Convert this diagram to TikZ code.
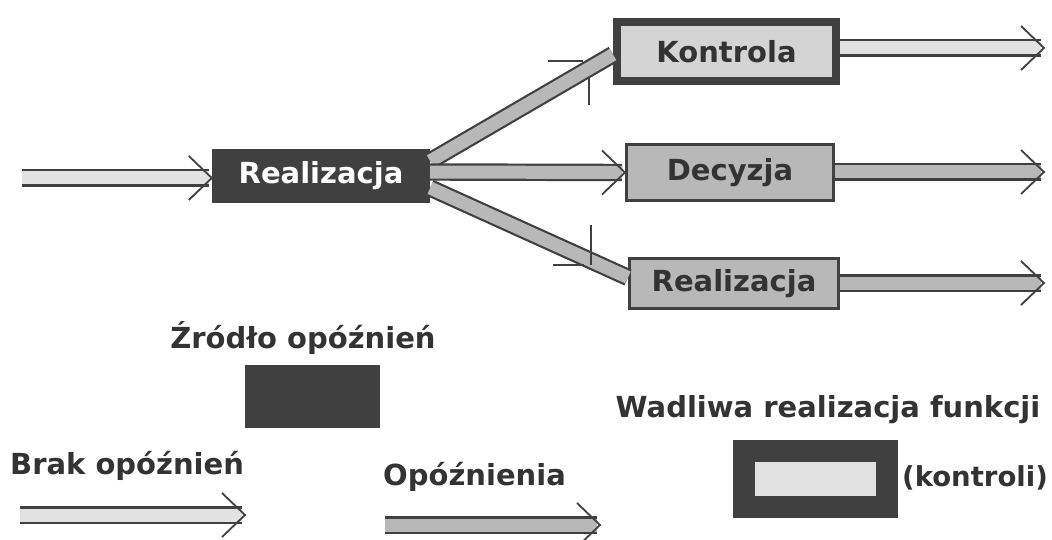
\documentclass[tikz,border=0pt]{standalone}
\usepackage{fontspec}
\setmainfont{DejaVu Sans}
\usetikzlibrary{calc}
\definecolor{dark}{HTML}{404040}
\definecolor{txt}{HTML}{333333}
\definecolor{lightfill}{HTML}{E2E2E2}
\definecolor{midfill}{HTML}{B8B8B8}
\definecolor{kfill}{HTML}{D4D4D4}
\newcommand\arrhead[1]{\draw[headline] ($(#1)+(-23,-22)$) -- (#1) -- ($(#1)+(-23,22)$);}
\begin{document}
\begin{tikzpicture}[x=1pt,y=-1pt,
  lbl/.style={font=\fontsize{29}{34}\selectfont\bfseries, text=txt, inner sep=0pt},
  darkbox/.style={fill=dark, text=white, font=\fontsize{29}{34}\selectfont\bfseries, inner sep=0pt},
  framebox/.style={draw=dark, text=txt, font=\fontsize{29}{34}\selectfont\bfseries, inner sep=0pt},
  band/.style={draw=dark, line width=2.2pt, double distance=13pt},
  headline/.style={draw=dark, line width=1.8pt},
  tick/.style={draw=dark, line width=1.8pt}]
\useasboundingbox (0,0) rectangle (1052,540);
\fill[white] (0,0) rectangle (1052,540);

% main nodes
\node[darkbox, minimum width=218, minimum height=54] (R1) at (321,176) {Realizacja};
\node[framebox, line width=8pt, fill=kfill, minimum width=219, minimum height=59] (K) at (726.5,51.5) {Kontrola};
\node[framebox, line width=3pt, fill=midfill, minimum width=207, minimum height=56] (D) at (730,172.5) {Decyzja};
\node[framebox, line width=3pt, fill=midfill, minimum width=209, minimum height=50] (R2) at (734,283.5) {Realizacja};

% incoming arrow
\coordinate (in) at (22,178);
\coordinate (inTip) at ($(R1.west)+(0,2)$);
\draw[band, double=lightfill] (in) -- ($(inTip)+(-3,0)$);
\arrhead{inTip}

% branches
\draw[band, double=midfill] ($(R1.east)+(0,-15)$) -- ($(K.west)+(0,3)$);
\draw[band, double=midfill] ($(R1.east)+(0,12)$) -- ($(R2.west)+(0,-6)$);
\coordinate (dTip) at (D.west);
\draw[band, double=midfill] ($(R1.east)+(0,-4)$) -- ($(dTip)+(-3,0)$);
\arrhead{dTip}

% head ticks of the slanted branches
\draw[tick] (548,61) -- (583,61);
\draw[tick] (589,78) -- (589,105);
\draw[tick] (591,225) -- (591,265);
\draw[tick] (553,265) -- (584,265);

% outgoing arrows
\coordinate (kOut) at (1044,48);
\coordinate (dOut) at (1044,172);
\coordinate (rOut) at (1044,283);
\draw[band, double=lightfill] (K.east |- kOut) -- ($(kOut)+(-3,0)$);
\arrhead{kOut}
\draw[band, double=midfill] (D.east |- dOut) -- ($(dOut)+(-3,0)$);
\arrhead{dOut}
\draw[band, double=midfill] (R2.east |- rOut) -- ($(rOut)+(-3,0)$);
\arrhead{rOut}

% legend
\node[lbl] (srcT) at (303,338) {Źródło opóźnień};
\node[fill=dark, minimum width=135, minimum height=63, inner sep=0pt] (src) at (312.5,396.5) {};

\node[lbl, anchor=west] (brakT) at (10,466) {Brak opóźnień};
\coordinate (b1) at (20,515);
\coordinate (b2) at (245,515);
\draw[band, double=lightfill] (b1) -- ($(b2)+(-3,0)$);
\arrhead{b2}

\node[lbl, anchor=west] (opT) at (383,477) {Opóźnienia};
\coordinate (o1) at (385,525);
\coordinate (o2) at (600,525);
\draw[band, double=midfill] (o1) -- ($(o2)+(-3,0)$);
\arrhead{o2}

\node[lbl] (wadT) at (828,410) {Wadliwa realizacja funkcji};
\node[draw=dark, line width=22pt, fill=lightfill, minimum width=143, minimum height=56, inner sep=0pt] (wad) at (815.5,479) {};
\node[lbl, font=\fontsize{27.5}{32}\selectfont\bfseries, anchor=east] (kontT) at (1048,478) {(kontroli)};
\end{tikzpicture}
\end{document}
